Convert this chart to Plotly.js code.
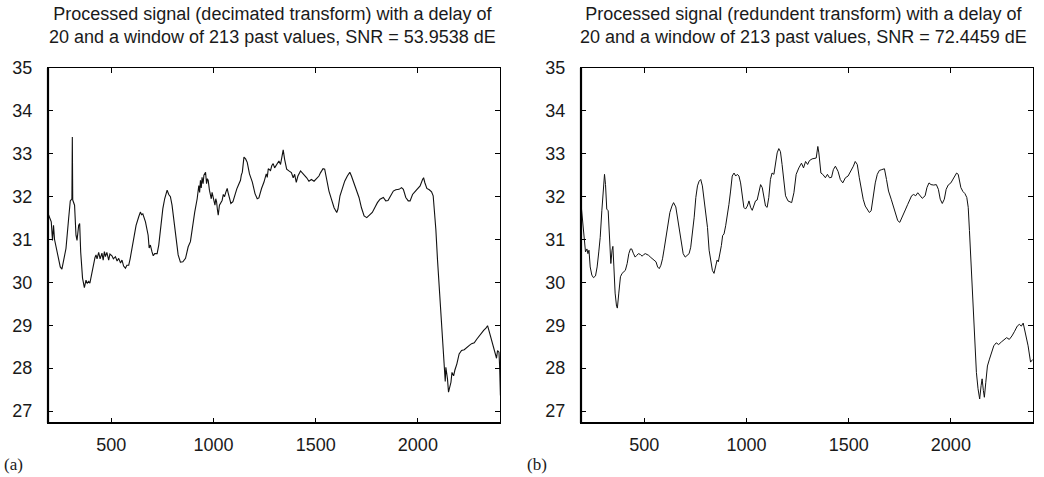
<!DOCTYPE html>
<html>
<head>
<meta charset="utf-8">
<script src="https://cdn.plot.ly/plotly-3.0.1.min.js"></script>
<style>html,body{margin:0;padding:0;background:#fff;}#chart{width:1044px;height:477px;}</style>
</head>
<body>
<div id="chart"></div>
<script>
// Panel (a): decimated transform
const decX = [193,200,206,212,217,222,234,250,258,266,278,291,299,307,309,311,320,327,332,340,345,350,359,368,376,382,389,395,402,413,420,425,430,438,445,454,460,466,471,478,487,493,503,510,520,528,536,545,552,560,569,576,585,592,598,609,621,634,642,648,654,667,680,685,691,699,705,712,724,732,740,752,761,773,781,789,797,806,817,827,838,850,863,876,887,895,908,920,928,932,936,940,944,949,953,961,966,970,974,980,985,989,993,998,1003,1007,1011,1015,1019,1023,1029,1035,1042,1048,1054,1060,1067,1071,1075,1080,1085,1095,1102,1108,1114,1121,1127,1132,1136,1141,1149,1157,1165,1176,1190,1203,1214,1222,1235,1247,1258,1263,1268,1279,1285,1292,1299,1309,1320,1328,1337,1341,1348,1358,1369,1381,1390,1397,1405,1413,1426,1443,1456,1467,1479,1492,1505,1516,1524,1536,1544,1554,1565,1577,1590,1603,1609,1619,1631,1642,1655,1667,1675,1688,1701,1712,1724,1737,1750,1766,1777,1789,1802,1815,1831,1843,1854,1867,1880,1892,1908,1920,1929,1941,1953,1962,1974,1985,1998,2011,2023,2028,2034,2044,2056,2067,2075,2080,2088,2096,2105,2113,2121,2126,2129,2134,2137,2142,2145,2150,2157,2162,2167,2175,2181,2191,2202,2214,2227,2240,2252,2263,2276,2289,2301,2312,2322,2333,2341,2346,2358,2371,2377,2385,2390,2397,2400,2404];
const decY = [31.57,31.45,31.41,30.98,31.33,31.0,30.7,30.36,30.31,30.48,30.79,31.49,31.9,31.95,33.39,31.92,31.8,31.1,30.98,31.33,31.37,30.71,30.1,29.88,30.05,29.98,30.02,29.98,30.17,30.4,30.58,30.64,30.55,30.7,30.55,30.68,30.52,30.72,30.6,30.7,30.52,30.66,30.62,30.55,30.6,30.5,30.56,30.45,30.52,30.38,30.33,30.4,30.4,30.55,30.71,30.95,31.33,31.53,31.64,31.58,31.6,31.41,31.1,30.8,30.87,30.71,30.62,30.67,30.67,30.87,31.26,31.72,31.95,32.15,32.05,32.0,31.8,31.41,30.95,30.64,30.47,30.48,30.56,30.83,30.95,31.26,31.64,31.95,32.26,32.1,32.38,32.2,32.45,32.3,32.5,32.57,32.3,32.42,32.38,32.15,32.02,31.95,32.1,32.0,31.85,31.8,31.95,31.88,31.7,31.57,31.8,31.85,31.91,32.05,32.0,32.1,32.19,32.1,32.04,31.95,31.84,31.88,32.0,32.04,32.18,32.26,32.33,32.38,32.5,32.57,32.92,32.88,32.8,32.53,32.34,32.07,31.95,31.97,32.19,32.34,32.53,32.45,32.65,32.61,32.72,32.77,32.67,32.75,32.83,32.75,32.95,33.09,32.87,32.64,32.6,32.56,32.44,32.52,32.33,32.48,32.6,32.52,32.44,32.36,32.4,32.36,32.42,32.48,32.56,32.65,32.64,32.36,32.13,31.94,31.74,31.63,31.71,32.02,32.21,32.36,32.48,32.57,32.48,32.29,32.13,31.98,31.74,31.55,31.51,31.57,31.63,31.74,31.86,31.94,31.98,31.9,31.91,32.02,32.13,32.16,32.17,32.21,32.17,31.98,31.9,31.9,32.05,32.11,32.17,32.25,32.4,32.44,32.33,32.19,32.16,32.11,32.02,31.78,31.24,30.54,29.92,29.3,28.76,28.37,28.06,27.69,28.02,27.9,27.75,27.44,27.56,27.67,27.9,27.82,27.95,28.1,28.33,28.41,28.43,28.49,28.53,28.57,28.59,28.68,28.76,28.84,28.88,28.93,28.99,28.91,28.68,28.49,28.37,28.23,28.41,28.37,28.06,27.36];

// Panel (b): redundant transform
const redX = [188,195,203,212,219,224,229,235,243,251,261,269,277,284,292,299,305,310,316,323,328,333,336,342,346,351,357,364,368,375,383,391,399,407,416,424,432,438,446,455,463,471,481,489,497,505,513,521,532,544,557,565,573,581,589,597,606,615,625,635,643,654,662,671,680,690,700,710,719,727,736,744,752,760,768,776,784,792,800,809,817,825,833,841,849,856,862,869,877,883,890,898,906,914,922,930,939,947,955,963,971,979,987,995,1004,1012,1020,1028,1036,1044,1052,1060,1069,1077,1085,1093,1101,1109,1117,1125,1134,1142,1150,1158,1166,1174,1183,1191,1203,1221,1232,1243,1256,1269,1279,1289,1299,1308,1321,1333,1341,1349,1354,1364,1373,1386,1396,1406,1416,1425,1435,1448,1459,1471,1484,1497,1510,1523,1532,1542,1552,1562,1571,1581,1591,1601,1610,1620,1630,1640,1650,1662,1675,1685,1695,1708,1721,1731,1740,1750,1760,1769,1779,1789,1799,1808,1818,1828,1838,1849,1860,1874,1883,1893,1903,1916,1929,1939,1948,1958,1968,1977,1987,2000,2010,2019,2028,2036,2042,2049,2059,2069,2078,2085,2091,2098,2104,2110,2117,2125,2133,2141,2148,2153,2159,2164,2171,2179,2189,2199,2210,2222,2234,2247,2260,2273,2286,2299,2312,2325,2335,2345,2354,2364,2378,2390,2400];
const redY = [31.94,31.52,31.05,30.71,30.78,30.67,30.75,30.36,30.17,30.11,30.15,30.36,30.71,31.05,31.67,32.21,32.52,32.28,31.71,31.67,31.21,30.59,30.44,30.75,30.84,30.36,29.75,29.44,29.4,29.75,30.13,30.21,30.25,30.28,30.44,30.67,30.78,30.78,30.68,30.59,30.63,30.67,30.65,30.61,30.65,30.67,30.65,30.63,30.58,30.53,30.48,30.36,30.32,30.4,30.55,30.78,31.09,31.36,31.63,31.78,31.86,31.76,31.52,31.21,30.9,30.67,30.59,30.63,30.67,30.82,31.13,31.52,31.98,32.25,32.36,32.4,32.25,31.98,31.63,31.28,30.75,30.48,30.28,30.21,30.36,30.52,30.48,30.63,30.86,31.09,31.13,31.32,31.55,31.82,32.13,32.48,32.55,32.48,32.52,32.48,32.32,32.05,31.75,31.71,31.78,31.9,31.75,31.68,31.82,31.9,31.92,32.09,32.28,32.21,31.98,31.78,31.75,31.98,32.4,32.55,32.52,32.75,33.02,33.12,33.05,32.75,32.36,32.02,31.9,31.86,32.09,32.52,32.67,32.78,32.67,32.82,32.75,32.84,32.88,32.9,32.9,33.17,33.02,32.55,32.52,32.44,32.52,32.44,32.45,32.63,32.71,32.59,32.4,32.32,32.44,32.48,32.59,32.71,32.82,32.75,32.44,32.13,31.94,31.78,31.71,31.63,31.67,32.02,32.32,32.52,32.61,32.63,32.65,32.4,32.13,31.94,31.75,31.55,31.44,31.4,31.52,31.63,31.71,31.82,31.94,32.02,32.05,32.02,32.09,32.02,31.96,32.02,32.21,32.32,32.28,32.27,32.28,32.17,31.94,31.84,31.94,32.17,32.27,32.32,32.4,32.48,32.55,32.52,32.32,32.21,32.12,32.07,31.98,31.75,31.21,30.52,29.82,29.13,28.52,27.9,27.52,27.28,27.59,27.75,27.48,27.32,27.67,28.05,28.21,28.36,28.52,28.59,28.55,28.61,28.67,28.71,28.67,28.75,28.86,28.98,29.02,28.98,29.05,28.82,28.52,28.14,28.2];

const xTicks = [500, 1000, 1500, 2000];
const yTicks = [27, 28, 29, 30, 31, 32, 33, 34, 35];
const titleA = 'Processed signal (decimated transform) with a delay of<br>20 and a window of 213 past values, SNR = 53.9538 dE';
const titleB = 'Processed signal (redundent transform) with a delay of<br>20 and a window of 213 past values, SNR = 72.4459 dE';
const panelLabels = ['(a)', '(b)'];

const W = 1044, H = 477;
const dA = [48 / W, 500 / W];
const dB = [581 / W, 1033 / W];
const dY = [(H - 423) / H, (H - 68) / H];

const tickFont = {family: 'Liberation Sans, Arial, sans-serif', size: 18, color: '#1a1a1a'};

function xax(dom, anchor) {
  return {
    domain: dom, anchor: anchor, range: [190, 2402],
    tickvals: xTicks, ticktext: xTicks.map(String),
    ticks: 'inside', ticklen: 5, tickwidth: 1, tickcolor: '#000',
    showline: true, linecolor: '#000', linewidth: 1, mirror: 'ticks',
    showgrid: false, zeroline: false, tickfont: tickFont, ticklabelstandoff: 5
  };
}
function yax(anchor) {
  return {
    domain: dY, anchor: anchor, range: [26.72, 35],
    tickvals: yTicks, ticktext: yTicks.map(String),
    ticks: 'inside', ticklen: 5, tickwidth: 1, tickcolor: '#000',
    showline: true, linecolor: '#000', linewidth: 1, mirror: 'ticks',
    showgrid: false, zeroline: false, tickfont: tickFont, ticklabelstandoff: 11
  };
}

const traces = [
  {x: decX, y: decY, type: 'scatter', mode: 'lines', xaxis: 'x', yaxis: 'y',
   line: {color: '#111', width: 1.1}, hoverinfo: 'skip'},
  {x: redX, y: redY, type: 'scatter', mode: 'lines', xaxis: 'x2', yaxis: 'y2',
   line: {color: '#111', width: 1}, hoverinfo: 'skip'}
];

function thick(xref, yref) {
  return [
    {type: 'line', xref: xref + ' domain', yref: yref + ' domain', x0: 0, x1: 0, y0: 0, y1: 1, line: {color: '#000', width: 2.2}},
    {type: 'line', xref: xref + ' domain', yref: yref + ' domain', x0: 0, x1: 1, y0: 0, y1: 0, line: {color: '#000', width: 2.2}}
  ];
}

const titleFont = {family: 'Liberation Sans, Arial, sans-serif', size: 18, color: '#1a1a1a'};
const labelFont = {family: 'Liberation Serif, Times New Roman, serif', size: 17, color: '#1a1a1a'};

const layout = {
  width: W, height: H,
  margin: {l: 0, r: 0, t: 0, b: 0},
  paper_bgcolor: '#fff', plot_bgcolor: '#fff',
  showlegend: false,
  xaxis: xax(dA, 'y'), yaxis: yax('x'),
  xaxis2: xax(dB, 'y2'), yaxis2: yax('x2'),
  shapes: thick('x', 'y').concat(thick('x2', 'y2')),
  annotations: [
    {text: titleA, xref: 'paper', yref: 'paper', x: 272 / W, y: 1 - 2 / H, xanchor: 'center', yanchor: 'top',
     showarrow: false, font: titleFont, align: 'center'},
    {text: titleB, xref: 'paper', yref: 'paper', x: 803 / W, y: 1 - 2 / H, xanchor: 'center', yanchor: 'top',
     showarrow: false, font: titleFont, align: 'center'},
    {text: panelLabels[0], xref: 'paper', yref: 'paper', x: 2 / W, y: 1 - 464 / H, xanchor: 'left', yanchor: 'middle',
     showarrow: false, font: labelFont},
    {text: panelLabels[1], xref: 'paper', yref: 'paper', x: 525 / W, y: 1 - 464 / H, xanchor: 'left', yanchor: 'middle',
     showarrow: false, font: labelFont}
  ]
};

Plotly.newPlot('chart', traces, layout, {staticPlot: true, displayModeBar: false});
</script>
</body>
</html>
